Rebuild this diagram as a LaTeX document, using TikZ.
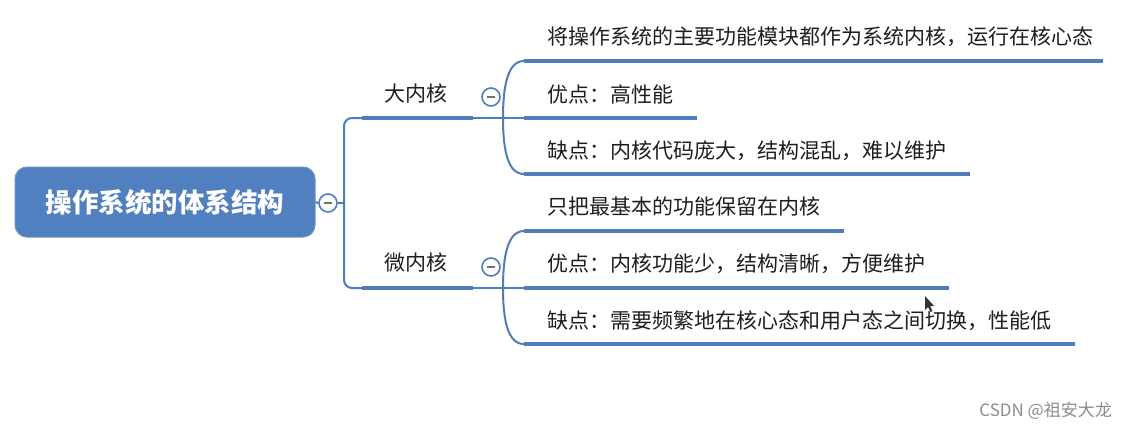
\documentclass[tikz,border=0pt]{standalone}
\usepackage{fontspec}
\newfontfamily\cjk{Noto Sans CJK SC}
\definecolor{rootblue}{HTML}{5080BF}
\definecolor{lineblue}{HTML}{4F7DBB}
\definecolor{txt}{HTML}{1E1E1E}
\tikzset{
  thinline/.style={draw=lineblue, line width=2pt},
  thickline/.style={draw=lineblue, line width=4.5pt},
  rootbox/.style={rectangle, rounded corners=12pt, fill=rootblue, draw=rootblue!85!white, line width=1pt,
    minimum width=300pt, minimum height=70pt, text=white, font=\cjk\bfseries\fontsize{26.5}{30}\selectfont},
  item/.style={anchor=west, inner sep=0pt, text=txt, text height=0.88em, text depth=0.12em,
    font=\cjk\fontsize{21}{24}\selectfont},
  branch/.style={inner sep=0pt, text=txt, text height=0.88em, text depth=0.12em,
    font=\cjk\fontsize{21}{24}\selectfont},
  toggle/.style={circle, draw=lineblue, line width=1.6pt, fill=white, minimum size=18pt, inner sep=0pt},
  dashmark/.style={draw=black!55, line width=1.4pt}
}
\begin{document}
\begin{tikzpicture}[x=1pt, y=-1pt]
\fill[white] (0,0) rectangle (1127,431);
\useasboundingbox (0,0) rectangle (1127,431);

% root
\node[rootbox] (root) at (165,202) {操作系统的体系结构};
\node[toggle] (t0) at (328,203) {};
\draw[dashmark] ([xshift=-4pt]t0.center) -- ([xshift=4pt]t0.center);
\draw[thinline] (root.east) -- (t0.west);

% junction and branches
\coordinate (j0) at (344,203);
\coordinate (ua0) at (362,118);
\coordinate (ua1) at (473,118);
\coordinate (ub0) at (362,288);
\coordinate (ub1) at (473,288);
\draw[thinline] (t0.east) -- (j0);
\draw[thinline, rounded corners=8pt] (ua0) -- (344,118) -- (344,288) -- (ub0);

\node[branch] (big) at (416,98) {大内核};
\node[branch] (micro) at (416,267) {微内核};
\draw[thickline] (ua0) -- (ua1);
\draw[thickline] (ub0) -- (ub1);

\node[toggle] (t1) at (491,97) {};
\draw[dashmark] ([xshift=-4pt]t1.center) -- ([xshift=4pt]t1.center);
\node[toggle] (t2) at (491,267) {};
\draw[dashmark] ([xshift=-4pt]t2.center) -- ([xshift=4pt]t2.center);

% brace points
\coordinate (pa) at (503,118);
\coordinate (pb) at (503,288);

% big kernel children
\coordinate (a1s) at (524,61);  \coordinate (a1e) at (1103,61);
\coordinate (a2s) at (524,118); \coordinate (a2e) at (697,118);
\coordinate (a3s) at (524,174); \coordinate (a3e) at (970,174);
\draw[thinline] (ua1) -- (a2s);
\draw[thinline] (pa) .. controls (503,85) and (508,61) .. (a1s);
\draw[thinline] (pa) .. controls (503,151) and (508,174) .. (a3s);
\draw[thickline] (a1s) -- (a1e);
\draw[thickline] (a2s) -- (a2e);
\draw[thickline] (a3s) -- (a3e);
\node[item] (a1) at (547,41) {将操作系统的主要功能模块都作为系统内核，运行在核心态};
\node[item] (a2) at (547,99) {优点：高性能};
\node[item] (a3) at (547,155) {缺点：内核代码庞大，结构混乱，难以维护};

% micro kernel children
\coordinate (b1s) at (524,231); \coordinate (b1e) at (844,231);
\coordinate (b2s) at (524,288); \coordinate (b2e) at (949,288);
\coordinate (b3s) at (524,344); \coordinate (b3e) at (1075,344);
\draw[thinline] (ub1) -- (b2s);
\draw[thinline] (pb) .. controls (503,255) and (508,231) .. (b1s);
\draw[thinline] (pb) .. controls (503,321) and (508,344) .. (b3s);
\draw[thickline] (b1s) -- (b1e);
\draw[thickline] (b2s) -- (b2e);
\draw[thickline] (b3s) -- (b3e);
\node[item] (b1) at (547,211) {只把最基本的功能保留在内核};
\node[item] (b2) at (547,268) {优点：内核功能少，结构清晰，方便维护};
\node[item] (b3) at (547,325) {缺点：需要频繁地在核心态和用户态之间切换，性能低};

% mouse cursor
\fill[black!80] (925,296) -- (925,310) -- (928,307) -- (930.5,312) -- (932.5,311) -- (930,306) -- (934,306) -- cycle;

% watermark
\node[anchor=east, inner sep=0pt, text=black!45, font=\cjk\fontsize{17}{20}\selectfont] (wm) at (1112,411) {CSDN @祖安大龙};
\end{tikzpicture}
\end{document}
